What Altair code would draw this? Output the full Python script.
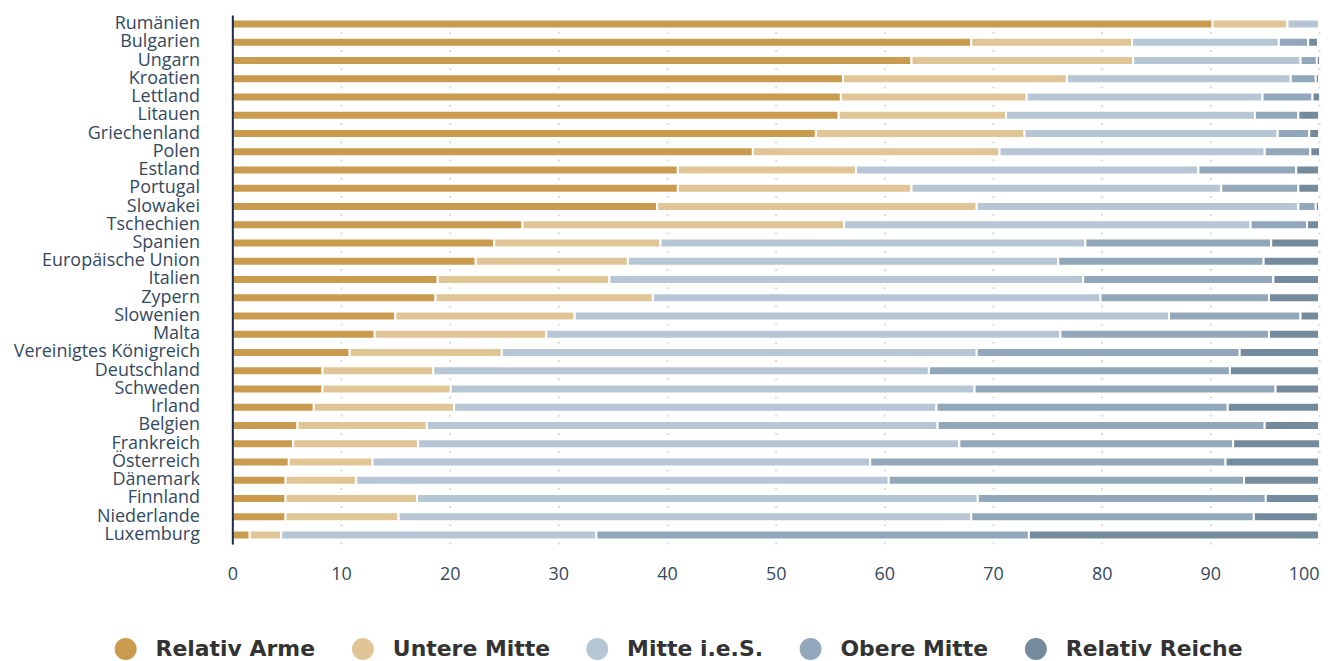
import altair as alt
import pandas as pd

countries = ["Rumänien", "Bulgarien", "Ungarn", "Kroatien", "Lettland", "Litauen",
             "Griechenland", "Polen", "Estland", "Portugal", "Slowakei", "Tschechien",
             "Spanien", "Europäische Union", "Italien", "Zypern", "Slowenien", "Malta",
             "Vereinigtes Königreich", "Deutschland", "Schweden", "Irland", "Belgien",
             "Frankreich", "Österreich", "Dänemark", "Finnland", "Niederlande", "Luxemburg"]

classes = ["Relativ Arme", "Untere Mitte", "Mitte i.e.S.", "Obere Mitte", "Relativ Reiche"]
colors = ["#c99b4e", "#e0c596", "#b6c6d4", "#93a7ba", "#748a9d"]

arme = [90.2, 68.0, 62.5, 56.2, 56.0, 55.8, 53.7, 47.9, 41.0, 41.0, 39.1, 26.7, 24.1, 22.4,
        18.9, 18.7, 15.0, 13.1, 10.8, 8.3, 8.3, 7.5, 6.0, 5.6, 5.2, 4.9, 4.9, 4.9, 1.6]
untere = [6.9, 14.8, 20.4, 20.6, 17.1, 15.4, 19.2, 22.7, 16.4, 21.5, 29.4, 29.6, 15.3, 14.0,
          15.8, 20.0, 16.5, 15.8, 14.0, 10.2, 11.8, 12.9, 11.9, 11.5, 7.7, 6.5, 12.1, 10.4, 2.9]
mitte = [2.9, 13.5, 15.4, 20.6, 21.7, 22.9, 23.3, 24.4, 31.5, 28.5, 29.6, 37.4, 39.1, 39.6,
         43.6, 41.2, 54.7, 47.3, 43.7, 45.6, 48.2, 44.4, 47.0, 49.8, 45.8, 49.0, 51.6, 52.7, 29.0]
obere = [0.0, 2.7, 1.5, 2.3, 4.6, 4.0, 2.9, 4.2, 9.0, 7.1, 1.6, 5.2, 17.1, 18.9,
         17.5, 15.5, 12.1, 19.2, 24.2, 27.7, 27.7, 26.8, 30.1, 25.2, 32.7, 32.7, 26.5, 26.0, 39.8]
reiche = [0.0, 0.9, 0.3, 0.3, 0.7, 1.9, 0.9, 0.9, 2.1, 1.9, 0.3, 1.1, 4.4, 5.1,
          4.2, 4.6, 1.7, 4.6, 7.3, 8.2, 4.0, 8.4, 5.0, 8.0, 8.6, 6.9, 4.9, 5.9, 26.7]

x_ticks = [0, 10, 20, 30, 40, 50, 60, 70, 80, 90, 100]

series = [arme, untere, mitte, obere, reiche]
rows = []
for ci, (cls, vals) in enumerate(zip(classes, series)):
    for country, v in zip(countries, vals):
        if v > 0:
            rows.append({"land": country, "klasse": cls, "ord": ci, "wert": v})
df = pd.DataFrame(rows)

label_color = "#34495e"

chart = alt.Chart(df).mark_bar(size=9, stroke="white", strokeWidth=2).encode(
    y=alt.Y("land:N", sort=countries, title=None,
            axis=alt.Axis(labelFont="Open Sans", labelFontSize=18, labelColor=label_color,
                          labelPadding=33, labelLimit=400, ticks=False, domain=True,
                          domainColor="#1c2b4a", domainWidth=2, grid=False, zindex=1)),
    x=alt.X("wert:Q", stack="zero", title=None,
            scale=alt.Scale(domain=[0, 100], nice=False),
            axis=alt.Axis(values=x_ticks, labelFont="Open Sans", labelFontSize=18,
                          labelColor=label_color, labelPadding=22, ticks=False,
                          domain=False, grid=True, gridColor="#d9d9d9", gridWidth=2,
                          gridDash=[2, 16.3],
                          labelAlign=alt.condition("datum.value == 100",
                                                   alt.value("right"), alt.value("center")))),
    color=alt.Color("klasse:N", sort=classes,
                    scale=alt.Scale(domain=classes, range=colors),
                    legend=alt.Legend(title=None, orient="none", direction="horizontal",
                                      legendX=-118, legendY=625,
                                      symbolType="circle", symbolSize=484,
                                      symbolStrokeWidth=0, labelLimit=400,
                                      labelFont="DejaVu Sans", labelFontWeight="bold",
                                      labelFontSize=22, labelColor="#333333",
                                      labelOffset=19, columnPadding=36, padding=0)),
    order=alt.Order("ord:Q"),
).properties(
    width=1090,
    height=alt.Step(18.3),
    padding={"left": 5, "top": 5, "right": 5, "bottom": 0},
).configure_view(stroke=None)

chart.save("out.html", embed_options={"renderer": "svg", "actions": False})
